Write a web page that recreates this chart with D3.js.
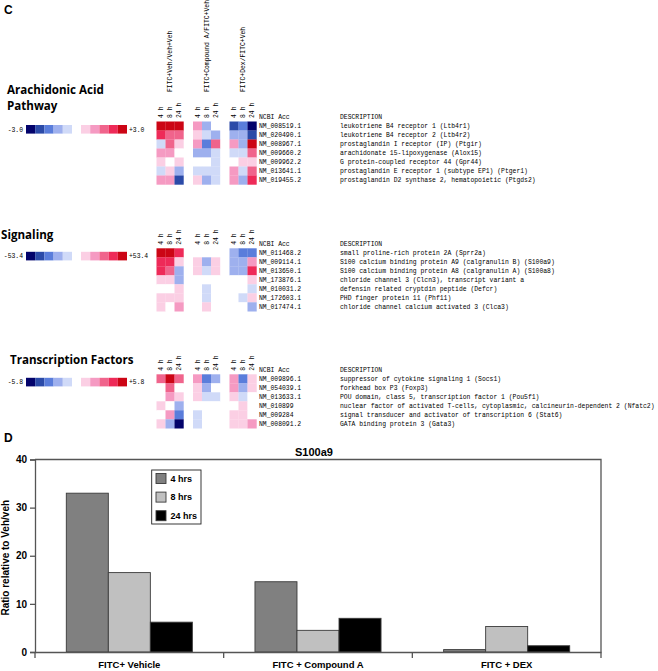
<!DOCTYPE html>
<html><head><meta charset="utf-8">
<script src="https://cdn.jsdelivr.net/npm/d3@7"></script>
<style>
html,body{margin:0;padding:0;background:#fff;}
svg{display:block;}
.mono{font-family:"Liberation Mono","DejaVu Sans Mono",monospace;font-size:6.4px;fill:#000;}
.ttl{font-family:"Open Sans",sans-serif;font-weight:700;font-size:11.6px;fill:#000;}
.bar text{font-family:"Liberation Sans",Arial,sans-serif;font-weight:700;}
</style></head>
<body>
<script>
// ---------- DATA ----------
const comparisons = ["FITC+Veh/Veh+Veh", "FITC+Compound A/FITC+Veh", "FITC+Dex/FITC+Veh"];
const timepoints = ["4 h", "8 h", "24 h"];
// colour levels: -5 (strong down, navy) .. 0 (white) .. +5 (strong up, red)
const levelColors = ["#03036b","#2b4aa8","#5a7ddb","#9eb0ee","#d0daf8","#ffffff","#fbcfe4","#f59ac2","#f0648c","#ee2a58","#cc0515"];

const arachidonicAcc = ["NM_008519.1","NM_020490.1","NM_008967.1","NM_009660.2","NM_009962.2","NM_013641.1","NM_019455.2"];
const arachidonicDesc = ["leukotriene B4 receptor 1 (Ltb4r1)","leukotriene B4 receptor 2 (Ltb4r2)","prostaglandin I receptor (IP) (Ptgir)","arachidonate 15-lipoxygenase (Alox15)","G protein-coupled receptor 44 (Gpr44)","prostaglandin E receptor 1 (subtype EP1) (Ptger1)","prostaglandin D2 synthase 2, hematopoietic (Ptgds2)"];
const arachidonicLevels = [
  [5,5,5, 2,-2,0, -4,-3,-5],
  [4,3,3, 1,-1,-2, -2,-2,-4],
  [-1,3,1, 2,-3,3, 2,-2,5],
  [2,2,0, -2,-2,-1, -1,-1,3],
  [1,0,1, 0,0,-1, 0,1,1],
  [-1,1,-2, -1,-1,-1, 2,-1,3],
  [2,2,-4, 1,-2,-1, 2,-2,4]
];

const signalingAcc = ["NM_011468.2","NM_009114.1","NM_013650.1","NM_173876.1","NM_010031.2","NM_172603.1","NM_017474.1"];
const signalingDesc = ["small proline-rich protein 2A (Sprr2a)","S100 calcium binding protein A9 (calgranulin B) (S100a9)","S100 calcium binding protein A8 (calgranulin A) (S100a8)","chloride channel 3 (Clcn3), transcript variant a","defensin related cryptdin peptide (Defcr)","PHD finger protein 11 (Phf11)","chloride channel calcium activated 3 (Clca3)"];
const signalingLevels = [
  [5,5,4, 0,0,0, -2,-3,-3],
  [4,4,1, 1,-2,1, -2,-2,2],
  [4,3,-2, 1,-1,1, -2,-2,4],
  [1,1,-2, 0,0,0, 0,0,1],
  [0,0,1, 0,-1,0, 0,0,-1],
  [1,1,1, 0,-1,0, 0,-1,1],
  [1,0,2, 0,1,0, 0,0,-2]
];

const transcriptionAcc = ["NM_009896.1","NM_054039.1","NM_013633.1","NM_010899","NM_009284","NM_008091.2"];
const transcriptionDesc = ["suppressor of cytokine signaling 1 (Socs1)","forkhead box P3 (Foxp3)","POU domain, class 5, transcription factor 1 (Pou5f1)","nuclear factor of activated T-cells, cytoplasmic, calcineurin-dependent 2 (Nfatc2)","signal transducer and activator of transcription 6 (Stat6)","GATA binding protein 3 (Gata3)"];
const transcriptionLevels = [
  [3,5,3, 2,-3,-2, 2,-3,1],
  [0,3,0, 1,-2,0, 2,-2,1],
  [0,2,1, 1,-1,-1, 1,-1,0],
  [1,0,-2, 0,0,0, 0,1,0],
  [0,2,-3, -1,0,0, 1,1,0],
  [1,-2,-5, -1,0,0, 1,1,2]
];

const scaleMaxLabels = ["3.0", "53.4", "5.8"];

const barCategories = ["FITC+ Vehicle", "FITC + Compound A", "FITC + DEX"];
const barSeries = ["4 hrs", "8 hrs", "24 hrs"];
const barValues = [
  [33.0, 16.5, 6.2],
  [14.6, 4.5, 7.0],
  [0.5, 5.3, 1.3]
];
const barYTicks = [0, 10, 20, 30, 40];

// ---------- DRAW ----------
const svg = d3.select("body").append("svg").attr("width", 658).attr("height", 671);

svg.append("text").attr("x", 4).attr("y", 14).attr("font-family", "Liberation Sans, Arial, sans-serif")
  .attr("font-weight", 700).attr("font-size", 12).text("C");

const color = d3.scaleOrdinal().domain(d3.range(-5, 6)).range(levelColors);
const groupX = d3.scaleBand().domain(comparisons).range([156.5, 256.5]).paddingInner(0.26).paddingOuter(0);
const timeX = d3.scaleBand().domain(timepoints).range([0, groupX.bandwidth()]);
const rowH = 9;

// comparison headers
svg.selectAll("text.hdr").data(comparisons).join("text").attr("class", "mono hdr")
  .attr("transform", d => `translate(${groupX(d) + groupX.bandwidth() / 2},92) rotate(-90)`)
  .attr("dy", "0.35em").attr("text-anchor", "start").text(d => d);

const panels = [
  {title: ["Arachidonic Acid", "Pathway"], titleX: 7, titleY: 94, acc: arachidonicAcc, desc: arachidonicDesc, lv: arachidonicLevels, top: 121.5, scale: scaleMaxLabels[0]},
  {title: ["Signaling"], titleX: 1, titleY: 239, acc: signalingAcc, desc: signalingDesc, lv: signalingLevels, top: 248.3, scale: scaleMaxLabels[1]},
  {title: ["Transcription Factors"], titleX: 10, titleY: 364, acc: transcriptionAcc, desc: transcriptionDesc, lv: transcriptionLevels, top: 374.3, scale: scaleMaxLabels[2]}
];

panels.forEach(p => {
  const g = svg.append("g");
  p.title.forEach((t, i) => g.append("text").attr("class", "ttl").attr("x", p.titleX).attr("y", p.titleY + i * 15.5).text(t));
  const rowY = d3.scaleBand().domain(d3.range(p.acc.length)).range([p.top, p.top + p.acc.length * rowH]);
  // scale legend
  const scY = p.top + 3.5;
  const blueLv = [-5, -4, -3, -2, -1], redLv = [1, 2, 3, 4, 5];
  const sw = d3.scaleBand().domain(d3.range(5)).range([26, 72]);
  g.selectAll("rect.sb").data(blueLv).join("rect").attr("class", "sb").attr("x", (d, i) => sw(i)).attr("y", scY)
    .attr("width", sw.bandwidth()).attr("height", 8.6).attr("fill", d => color(d));
  g.selectAll("rect.sr").data(redLv).join("rect").attr("class", "sr").attr("x", (d, i) => sw(i) + 55).attr("y", scY)
    .attr("width", sw.bandwidth()).attr("height", 8.6).attr("fill", d => color(d));
  g.append("text").attr("class", "mono").attr("x", 23).attr("y", scY + 4.3).attr("dy", "0.35em").attr("text-anchor", "end").text("-" + p.scale);
  g.append("text").attr("class", "mono").attr("x", 129).attr("y", scY + 4.3).attr("dy", "0.35em").text("+" + p.scale);
  // time labels
  comparisons.forEach(c => {
    g.selectAll(null).data(timepoints).join("text").attr("class", "mono")
      .attr("transform", t => `translate(${groupX(c) + timeX(t) + timeX.bandwidth() / 2},${p.top - 3.5}) rotate(-90)`)
      .attr("dy", "0.35em").text(d => d);
  });
  // cells
  p.lv.forEach((row, r) => {
    row.forEach((v, k) => {
      const c = comparisons[Math.floor(k / 3)], tp = timepoints[k % 3];
      g.append("rect").attr("x", groupX(c) + timeX(tp)).attr("y", rowY(r))
        .attr("width", timeX.bandwidth() + 0.2).attr("height", rowY.bandwidth() + 0.2).attr("fill", color(v));
    });
  });
  // text columns
  g.append("text").attr("class", "mono").attr("x", 259).attr("y", p.top - rowH / 2).attr("dy", "0.35em").text("NCBI Acc");
  g.append("text").attr("class", "mono").attr("x", 340).attr("y", p.top - rowH / 2).attr("dy", "0.35em").text("DESCRIPTION");
  g.selectAll("text.acc").data(p.acc).join("text").attr("class", "mono acc").attr("x", 259)
    .attr("y", (d, i) => rowY(i) + rowH / 2).attr("dy", "0.35em").text(d => d);
  g.selectAll("text.desc").data(p.desc).join("text").attr("class", "mono desc").attr("x", 340)
    .attr("y", (d, i) => rowY(i) + rowH / 2).attr("dy", "0.35em").text(d => d);
});

// ---------- BAR CHART ----------
const bg = svg.append("g").attr("class", "bar");
const x0 = d3.scaleBand().domain(barCategories).range([35, 601]).padding(0);
const x1 = d3.scaleBand().domain(barSeries).range([31.3, x0.bandwidth() - 31.3]);
const y = d3.scaleLinear().domain([0, 40]).range([652, 459.5]);
const barFill = d3.scaleOrdinal().domain(barSeries).range(["#808080", "#c0c0c0", "#000000"]);
const axisCol = "#555";

bg.append("text").attr("x", 4).attr("y", 442).attr("font-size", 12).text("D");
bg.append("text").attr("x", 314).attr("y", 452).attr("dy", "0.35em").attr("text-anchor", "middle").attr("font-size", 11).text("S100a9");

// frame (top/right)
bg.append("path").attr("d", `M35,${y(40)}H601V${y(0)}`).attr("fill", "none").attr("stroke", axisCol).attr("stroke-width", 1.3);

barCategories.forEach((c, ci) => {
  bg.selectAll(null).data(barSeries).join("rect")
    .attr("x", s => x0(c) + x1(s)).attr("width", x1.bandwidth())
    .attr("y", (s, si) => y(barValues[ci][si])).attr("height", (s, si) => y(0) - y(barValues[ci][si]))
    .attr("fill", s => barFill(s)).attr("stroke", "#3a3a3a").attr("stroke-width", 0.9);
});

const ya = bg.append("g").attr("transform", "translate(35,0)")
  .call(d3.axisLeft(y).tickValues(barYTicks).tickSize(5).tickPadding(3).tickFormat(d3.format("d")));
ya.select(".domain").attr("stroke", axisCol).attr("stroke-width", 1.3);
ya.selectAll(".tick line").attr("stroke", axisCol).attr("stroke-width", 1.3);
ya.selectAll("text").attr("font-size", 10).attr("font-weight", 700).attr("fill", "#000").attr("font-family", "Liberation Sans, Arial, sans-serif");

const xa = bg.append("g").attr("transform", `translate(0,${y(0)})`)
  .call(d3.axisBottom(x0).tickSize(0).tickPadding(9));
xa.select(".domain").attr("stroke", axisCol).attr("stroke-width", 1.3);
xa.selectAll("text").attr("font-size", 9.5).attr("font-weight", 700).attr("fill", "#000").attr("font-family", "Liberation Sans, Arial, sans-serif");
// group separator ticks
const sepX = barCategories.map(c => x0(c)).concat([x0.range()[1]]);
bg.selectAll("line.sep").data(sepX).join("line").attr("class", "sep").attr("x1", d => d).attr("x2", d => d)
  .attr("y1", y(0)).attr("y2", y(0) + 6).attr("stroke", axisCol).attr("stroke-width", 1.3);

bg.append("text").attr("transform", `translate(9,${(y(0) + y(40)) / 2 + 2}) rotate(-90)`)
  .attr("text-anchor", "middle").attr("font-size", 10).text("Ratio relative to Veh/veh");

// legend
const lg = bg.append("g");
lg.append("rect").attr("x", 151.7).attr("y", 470).attr("width", 49.3).attr("height", 54)
  .attr("fill", "#fff").attr("stroke", "#222").attr("stroke-width", 0.9);
barSeries.forEach((s, i) => {
  const cy = 478.5 + i * 18.6;
  lg.append("rect").attr("x", 156).attr("y", cy - 5).attr("width", 10).attr("height", 10)
    .attr("fill", barFill(s)).attr("stroke", "#3a3a3a").attr("stroke-width", 0.9);
  lg.append("text").attr("x", 170.5).attr("y", cy).attr("dy", "0.35em").attr("font-size", 9).text(s);
});
</script>
</body></html>
